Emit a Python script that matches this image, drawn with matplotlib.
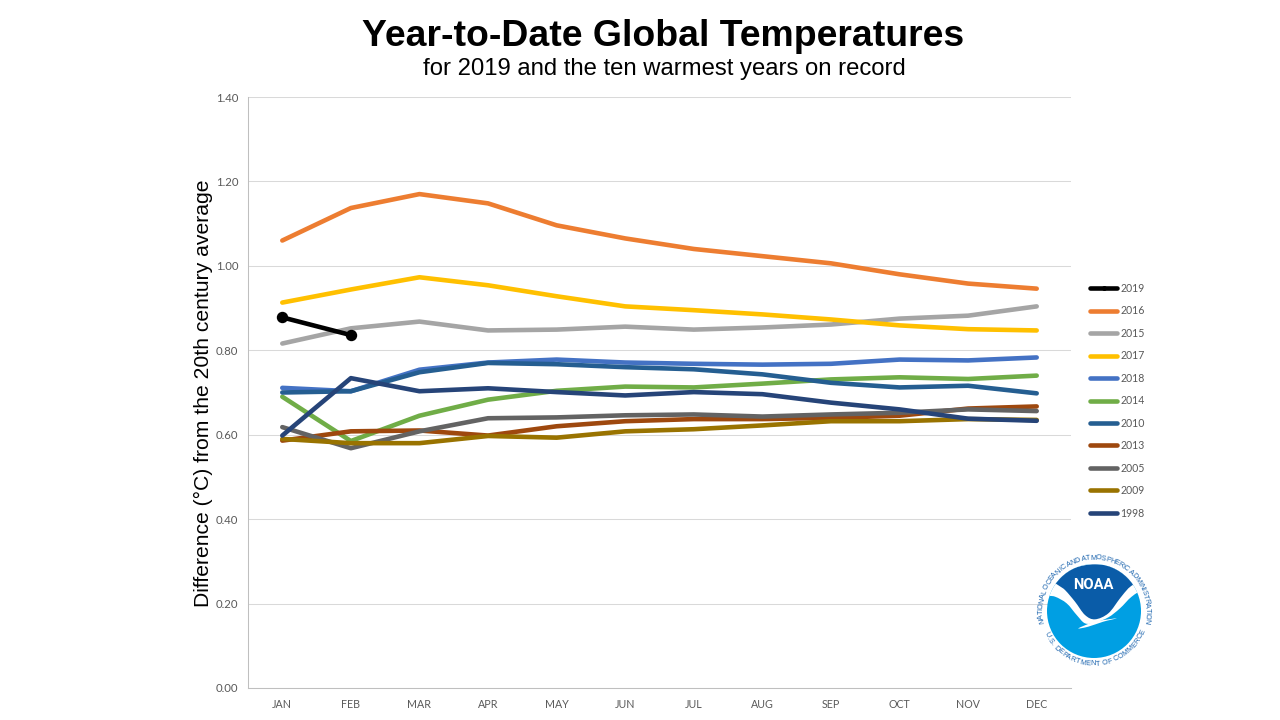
import numpy as np
import matplotlib
matplotlib.use('Agg')
import matplotlib.pyplot as plt
from matplotlib.font_manager import FontProperties
from matplotlib.patches import Circle, PathPatch
from matplotlib.path import Path
from matplotlib.textpath import text_to_path

plt.rcParams['font.family'] = ['Liberation Sans', 'DejaVu Sans']

months = ['JAN', 'FEB', 'MAR', 'APR', 'MAY', 'JUN', 'JUL', 'AUG', 'SEP', 'OCT', 'NOV', 'DEC']
yticks = [0.0, 0.2, 0.4, 0.6, 0.8, 1.0, 1.2, 1.4]

y2019 = [0.878, 0.836]
y2016 = [1.060, 1.137, 1.170, 1.148, 1.096, 1.065, 1.040, 1.023, 1.006, 0.980, 0.958, 0.946]
y2015 = [0.816, 0.852, 0.868, 0.847, 0.849, 0.856, 0.849, 0.854, 0.861, 0.875, 0.882, 0.904]
y2017 = [0.913, 0.944, 0.973, 0.954, 0.928, 0.904, 0.895, 0.885, 0.873, 0.859, 0.850, 0.847]
y2018 = [0.711, 0.703, 0.754, 0.771, 0.778, 0.771, 0.768, 0.766, 0.768, 0.778, 0.776, 0.783]
y2014 = [0.690, 0.585, 0.645, 0.683, 0.704, 0.714, 0.712, 0.721, 0.731, 0.736, 0.732, 0.740]
y2010 = [0.700, 0.703, 0.748, 0.770, 0.767, 0.760, 0.755, 0.743, 0.723, 0.712, 0.716, 0.698]
y2013 = [0.586, 0.608, 0.610, 0.598, 0.620, 0.632, 0.637, 0.637, 0.640, 0.645, 0.662, 0.667]
y2005 = [0.618, 0.568, 0.608, 0.639, 0.641, 0.646, 0.648, 0.643, 0.648, 0.652, 0.660, 0.656]
y2009 = [0.590, 0.580, 0.580, 0.597, 0.593, 0.608, 0.613, 0.622, 0.632, 0.632, 0.637, 0.635]
y1998 = [0.598, 0.734, 0.703, 0.710, 0.701, 0.693, 0.701, 0.696, 0.676, 0.660, 0.638, 0.633]

series = [('2016', y2016, '#ED7D31'), ('2015', y2015, '#A5A5A5'), ('2017', y2017, '#FFC000'),
          ('2018', y2018, '#4472C4'), ('2014', y2014, '#70AD47'), ('2010', y2010, '#255E91'),
          ('2013', y2013, '#9E480E'), ('2005', y2005, '#636363'), ('2009', y2009, '#997300'),
          ('1998', y1998, '#264478')]

W, H = 1280, 720
fig = plt.figure(figsize=(W / 100, H / 100), dpi=100)
ax = fig.add_axes([248 / W, 1 - 688 / H, (1071 - 248) / W, (688 - 97) / H])

x = np.arange(len(months))
h19, = ax.plot(x[:len(y2019)], y2019, color='black', lw=3.3, marker='o', ms=7.2,
               solid_capstyle='round', label='2019', zorder=5)
for name, vals, col in series:
    ax.plot(x, vals, color=col, lw=3.3, solid_capstyle='round', label=name)

ax.set_xlim(-0.5, 11.5)
ax.set_ylim(0, 1.4)
ax.set_xticks(x)
ax.set_xticklabels(months, family=['Lato', 'DejaVu Sans'])
ax.set_yticks(yticks)
ax.set_yticklabels(['%.2f' % v for v in yticks], family=['Lato', 'DejaVu Sans'])
ax.tick_params(axis='x', length=0, labelsize=7.7, labelcolor='#595959', pad=8)
ax.tick_params(axis='y', length=0, labelsize=8.2, labelcolor='#595959', pad=7)
ax.grid(axis='y', color='#D9D9D9', lw=0.75)
ax.set_axisbelow(True)
for side in ['top', 'right']:
    ax.spines[side].set_visible(False)
for side in ['left', 'bottom']:
    ax.spines[side].set_color('#BFBFBF')
    ax.spines[side].set_linewidth(0.75)

# legend handles: short line only, the 2019 one keeps its dot
leg = ax.legend(loc='upper left', bbox_to_anchor=(1090 / W, 1 - 283 / H), bbox_transform=fig.transFigure,
                frameon=False, labelcolor='#595959', borderpad=0, borderaxespad=0,
                handlelength=2.6, handletextpad=0.3, labelspacing=1.085, markerscale=0.35,
                prop={'family': ['Lato', 'DejaVu Sans'], 'size': 7.6})

fig.text(663.5 / W, 1 - 36 / H, 'Year-to-Date Global Temperatures', ha='center', va='center',
         fontsize=26.95, fontweight='bold', color='black')
fig.text(664 / W, 1 - 69 / H, 'for 2019 and the ten warmest years on record', ha='center', va='center',
         fontsize=17.2, color='black')
fig.text(203 / W, 1 - 393 / H, 'Difference (°C) from the 20th century average', rotation=90,
         ha='center', va='center', fontsize=15.25, color='black')

# NOAA logo, drawn in pixel coordinates on a full figure overlay
lg = fig.add_axes([0, 0, 1, 1])
lg.set_xlim(0, W)
lg.set_ylim(H, 0)
lg.axis('off')
lg.patch.set_alpha(0)

cx, cy, r = 1094.0, 611.0, 47.0


def p(px, py):
    return (1020 + px / 3, 540 + py / 3)


def smooth(points, **kw):
    # closed shape through control points, Catmull-Rom style
    pts = np.array([p(*q) for q in points])
    n = len(pts)
    verts = [pts[0]]
    codes = [Path.MOVETO]
    for i in range(n):
        p0, p1, p2, p3 = pts[i - 1], pts[i], pts[(i + 1) % n], pts[(i + 2) % n]
        verts += [p1 + (p2 - p0) / 6, p2 - (p3 - p1) / 6, p2]
        codes += [Path.CURVE4] * 3
    return PathPatch(Path(verts, codes), **kw)


disc = Circle((cx, cy), r, fc='#009FE3', ec='none')
lg.add_patch(disc)
white = smooth([(40, 40), (30, 140), (75, 165), (105, 170), (140, 190), (170, 225), (195, 250), (225, 248),
                (265, 232), (300, 205), (335, 170), (375, 145), (420, 130), (420, 40)], fc='white', ec='none')
lg.add_patch(white)
white.set_clip_path(disc)
dark = smooth([(100, 118), (160, 85), (225, 73), (295, 85), (352, 118), (325, 145), (300, 175), (265, 220),
               (225, 238), (195, 225), (165, 185), (135, 150)], fc='#0A5CA8', ec='none')
lg.add_patch(dark)
dark.set_clip_path(disc)
tail = smooth([(175, 265), (225, 245), (290, 235), (250, 245), (205, 260)], fc='white', ec='none')
lg.add_patch(tail)
lg.text(*p(221, 134), 'NOAA', color='white', fontsize=10.6, fontweight='bold', ha='center', va='center',
        family=['Roboto', 'DejaVu Sans'])

ring_font = FontProperties(family='Liberation Sans', size=5.2)


def ring_text(s, start, end, rad, flip=False):
    # one text per letter along the circle, spaced by letter width
    widths = []
    for ch in s:
        if ch == ' ':
            widths.append(1.5)
        else:
            widths.append(text_to_path.get_text_width_height_descent(ch, ring_font, False)[0])
    widths = np.array(widths)
    mids = np.cumsum(widths) - widths / 2
    angs = start + (end - start) * (mids - mids[0]) / (mids[-1] - mids[0])
    for ch, a in zip(s, angs):
        tx = cx + rad * np.cos(np.radians(a))
        ty = cy - rad * np.sin(np.radians(a))
        rot = a + 90 if flip else a - 90
        lg.text(tx, ty, ch, fontproperties=ring_font, color='#1B64AE', ha='center', va='center',
                rotation=rot, rotation_mode='anchor')


ring_text('NATIONAL OCEANIC AND ATMOSPHERIC ADMINISTRATION', 191, -11, 53)
ring_text('U.S. DEPARTMENT OF COMMERCE', 207, 337, 53, flip=True)

fig.savefig('out.png', dpi=100)
